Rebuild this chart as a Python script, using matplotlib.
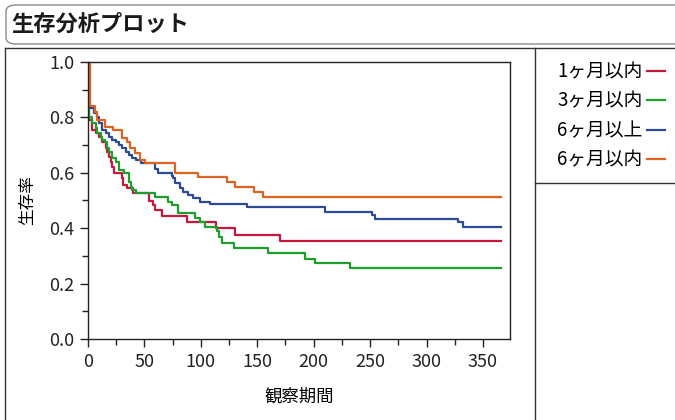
import matplotlib
matplotlib.use("Agg")
import matplotlib.pyplot as plt
from matplotlib.patches import FancyBboxPatch
from matplotlib.lines import Line2D
from matplotlib.ticker import MultipleLocator, FormatStrFormatter

plt.rcParams['font.family'] = ['Noto Sans CJK JP', 'DejaVu Sans']

# Kaplan-Meier survival estimates (time in days, survival after each step)
labels = ["1ヶ月以内", "3ヶ月以内", "6ヶ月以上", "6ヶ月以内"]
colors = ["#c8173f", "#1e9e2a", "#2c4a96", "#dc6420"]

t_1m = [0, 1, 3.5, 7, 9.7, 12.4, 16, 17, 18.6, 20.4, 21.3, 23, 30, 31, 34.5, 40,
        54, 57.6, 59.4, 65.6, 87.7, 113.4, 130, 170, 366]
s_1m = [1.0, 0.79, 0.755, 0.745, 0.73, 0.71, 0.69, 0.675, 0.657, 0.64, 0.62, 0.60,
        0.58, 0.556, 0.545, 0.527, 0.50, 0.484, 0.466, 0.444, 0.422, 0.40, 0.375,
        0.354, 0.354]

t_3m = [0, 1, 3.5, 7, 8, 11.5, 12.4, 15, 17, 18.6, 21.3, 24.8, 27.5, 32, 36.3, 38,
        39, 42.5, 59.4, 71, 74.4, 79.7, 95, 99, 103.7, 114, 116, 118.7, 129, 159.5,
        192, 201, 232, 366]
s_3m = [1.0, 0.80, 0.78, 0.76, 0.745, 0.73, 0.72, 0.71, 0.69, 0.675, 0.653, 0.64,
        0.61, 0.60, 0.567, 0.55, 0.538, 0.527, 0.513, 0.495, 0.484, 0.455, 0.437,
        0.422, 0.404, 0.39, 0.37, 0.347, 0.327, 0.31, 0.29, 0.275, 0.257, 0.257]

t_6p = [0, 1, 5.3, 8, 9.7, 12.4, 16, 18.6, 21.3, 24.8, 27.5, 30, 33.7, 36.3, 39,
        42.5, 47, 59.4, 62, 74.4, 75.3, 77, 81.5, 84, 88.6, 93, 99, 108, 141, 210,
        251.6, 254, 328, 332, 366]
s_6p = [1.0, 0.835, 0.815, 0.80, 0.78, 0.755, 0.745, 0.73, 0.72, 0.71, 0.70, 0.69,
        0.675, 0.665, 0.655, 0.645, 0.635, 0.614, 0.60, 0.59, 0.58, 0.563, 0.545,
        0.53, 0.52, 0.509, 0.495, 0.487, 0.477, 0.458, 0.448, 0.433, 0.422, 0.404,
        0.404]

t_6m = [0, 1.8, 6.2, 8, 15, 22, 30, 34.5, 37, 42, 46, 50.5, 77, 97.5, 123, 130,
        147, 155, 366]
s_6m = [1.0, 0.84, 0.82, 0.79, 0.765, 0.755, 0.725, 0.71, 0.69, 0.67, 0.645, 0.635,
        0.60, 0.585, 0.567, 0.55, 0.53, 0.513, 0.513]

x_ticks = [0, 50, 100, 150, 200, 250, 300, 350]
y_ticks = [0.0, 0.2, 0.4, 0.6, 0.8, 1.0]

W, H = 675, 420
fig = plt.figure(figsize=(W / 100, H / 100), dpi=100)
fig.patch.set_facecolor("white")


def fx(px):
    return px / W


def fy(py):
    return 1 - py / H


# page frames
title_box = FancyBboxPatch((fx(6), fy(44)), fx(700) - fx(6), fy(5) - fy(44),
                           boxstyle="round,pad=0,rounding_size=0.015",
                           transform=fig.transFigure, facecolor="white",
                           edgecolor="#8a8a8a", linewidth=1.0, zorder=0)
fig.patches.append(title_box)
fig.text(fx(11), fy(24), "生存分析プロット", fontsize=16, fontweight="bold",
         ha="left", va="center", color="#1a1a1a")

frame_kw = dict(transform=fig.transFigure, color="#333333", linewidth=1.0)
fig.add_artist(Line2D([fx(5), fx(675)], [fy(48), fy(48)], **frame_kw))
fig.add_artist(Line2D([fx(5), fx(5)], [fy(48), fy(420)], **frame_kw))
fig.add_artist(Line2D([fx(535), fx(535)], [fy(48), fy(420)], **frame_kw))
fig.add_artist(Line2D([fx(535), fx(675)], [fy(183), fy(183)], **frame_kw))

ax = fig.add_axes([fx(88), fy(339), fx(510) - fx(88), fy(62) - fy(339)])
series = [(t_1m, s_1m), (t_3m, s_3m), (t_6p, s_6p), (t_6m, s_6m)]
handles = []
for (t, s), lab, c in zip(series, labels, colors):
    h, = ax.step(t, s, where="post", color=c, linewidth=1.6, label=lab)
    handles.append(h)

ax.set_xlim(0, 374)
ax.set_ylim(0, 1.0)
ax.set_xticks(x_ticks)
ax.set_yticks(y_ticks)
ax.xaxis.set_minor_locator(MultipleLocator(25))
ax.yaxis.set_minor_locator(MultipleLocator(0.1))
ax.yaxis.set_major_formatter(FormatStrFormatter("%.1f"))
ax.tick_params(which="major", direction="out", length=6, width=1.0,
               labelsize=13, pad=4, colors="#222222")
ax.tick_params(which="minor", direction="out", length=4, width=1.0,
               colors="#222222")
for sp in ax.spines.values():
    sp.set_linewidth(1.0)
    sp.set_color("#222222")
ax.set_xlabel("観察期間", fontsize=12.5, labelpad=12)
ax.set_ylabel("生存率", fontsize=12, labelpad=9)

leg = fig.legend(handles=handles, labels=labels, loc="upper left",
                 bbox_to_anchor=(fx(548), fy(52)), frameon=False,
                 markerfirst=False, fontsize=13.5, handlelength=0.95,
                 handletextpad=0.25, labelspacing=0.45, borderpad=0)

fig.savefig("out.png", dpi=100, facecolor="white")
